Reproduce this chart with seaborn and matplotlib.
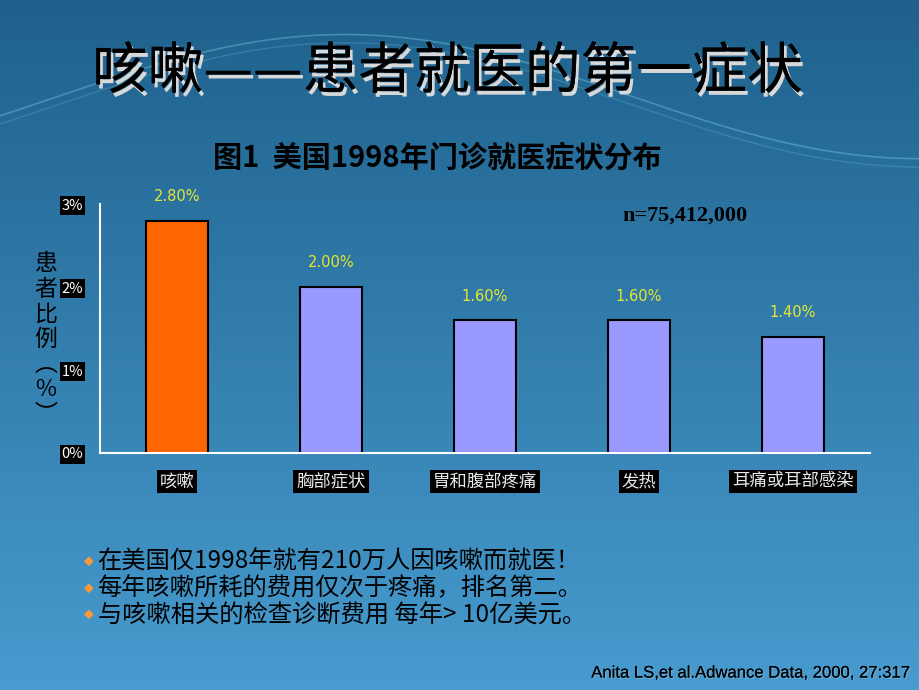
import numpy as np
import pandas as pd
import seaborn as sns
import matplotlib.pyplot as plt
import matplotlib.patheffects as pe
from matplotlib.ticker import FixedLocator

categories = ["咳嗽", "胸部症状", "胃和腹部疼痛", "发热", "耳痛或耳部感染"]
values = [2.8, 2.0, 1.6, 1.6, 1.4]
bar_colors = ["#ff6600", "#9999ff", "#9999ff", "#9999ff", "#9999ff"]
ytick_vals = [0, 1, 2, 3]
ytick_labels = ["0%", "1%", "2%", "3%"]
bullets = [
    "在美国仅1998年就有210万人因咳嗽而就医！",
    "每年咳嗽所耗的费用仅次于疼痛，排名第二。",
    "与咳嗽相关的检查诊断费用 每年> 10亿美元。",
]

df = pd.DataFrame({"symptom": categories, "pct": values})

sns.set_style("white")
plt.rcParams["font.family"] = ["Noto Sans CJK SC", "DejaVu Sans"]

fig = plt.figure(figsize=(9.2, 6.9), dpi=100)

# slide background: blue gradient with a faint wave near the top
bg = fig.add_axes([0, 0, 1, 1], zorder=-10)
grad = np.linspace(0, 1, 256).reshape(-1, 1)
top = np.array([0.12, 0.38, 0.55])
bot = np.array([0.28, 0.61, 0.81])
img = top + (bot - top) * grad[..., None]
bg.imshow(img, aspect="auto", extent=[0, 1, 0, 1], origin="upper")
t = np.linspace(0, 1, 300)
wave = 0.86 + 0.09 * np.sin(np.pi * (t * 1.6 - 0.1))
bg.plot(t, wave, color="#7fe0f0", alpha=0.35, lw=1.2)
bg.plot(t, wave - 0.012, color="#7fe0f0", alpha=0.2, lw=1.0)
bg.set_xlim(0, 1)
bg.set_ylim(0, 1)
bg.axis("off")

ax = fig.add_axes([0.1087, 0.3435, 0.837, 0.3608])
ax.set_facecolor("none")
sns.barplot(data=df, x="symptom", y="pct", hue="symptom", palette=bar_colors,
            width=0.4, edgecolor="black", linewidth=1.5, legend=False,
            saturation=1, ax=ax)

for cont, v in zip(ax.containers, values):
    ax.bar_label(cont, labels=[f"{v:.2f}%"], padding=12, color="#e6e632",
                 fontsize=10.5, family=["DejaVu Sans"])

ax.set_ylim(0, 3)
ax.set_xlim(-0.5, len(categories) - 0.5)
ax.set_yticks(ytick_vals)
ax.set_yticklabels(ytick_labels)
ax.xaxis.set_minor_locator(FixedLocator(np.arange(0.5, len(categories) - 0.5, 1)))
ax.tick_params(axis="x", which="major", length=0, pad=14)
ax.tick_params(axis="x", which="minor", length=4, direction="in", color="white")
ax.tick_params(axis="y", length=5, direction="in", color="white", width=1.2, pad=12)
for lab in ax.get_yticklabels():
    lab.set_color("white")
    lab.set_fontsize(10.5)
    lab.set_bbox(dict(facecolor="black", edgecolor="none", pad=1.5))
for lab in ax.get_xticklabels():
    lab.set_color("#e8e8e8")
    lab.set_fontsize(12.5)
    lab.set_bbox(dict(facecolor="black", edgecolor="none", pad=2))
ax.set_xlabel("")
ax.set_ylabel("")
for s in ["top", "right"]:
    ax.spines[s].set_visible(False)
for s in ["left", "bottom"]:
    ax.spines[s].set_color("white")
    ax.spines[s].set_linewidth(1.5)

fig.text(0.050, 0.508, "患\n者\n比\n例\n︵\n％\n︶", ha="center", va="center",
         fontsize=16.5, color="black", linespacing=1.12)

shadow = [pe.withSimplePatchShadow(offset=(2, -3), shadow_rgbFace="#d8d8d8", alpha=1),
          pe.Normal()]
fig.text(0.486, 0.895, "咳嗽——患者就医的第一症状", ha="center", va="center",
         fontsize=40, color="black", fontweight="medium", path_effects=shadow)
fig.text(0.475, 0.771, "图1  美国1998年门诊就医症状分布", ha="center", va="center",
         fontsize=21, color="black", fontweight="bold")
fig.text(0.676, 0.688, "n=75,412,000", ha="left", va="center", fontsize=16,
         color="black", fontweight="bold", family=["Liberation Serif"])

for i, line in enumerate(bullets):
    y = 0.1855 - i * 0.0385
    fig.text(0.097, y, "◆", ha="center", va="center", fontsize=7, color="#ff9933")
    fig.text(0.106, y, line, ha="left", va="center", fontsize=17.5, color="black")

fig.text(0.989, 0.0246, "Anita LS,et al.Adwance Data, 2000, 27:317", ha="right",
         va="center", fontsize=12, color="black", family=["Liberation Sans"],
         path_effects=[pe.withSimplePatchShadow(offset=(1, -1), shadow_rgbFace="#6aa8d0", alpha=1),
                       pe.Normal()])

fig.savefig("out.png", dpi=100)
